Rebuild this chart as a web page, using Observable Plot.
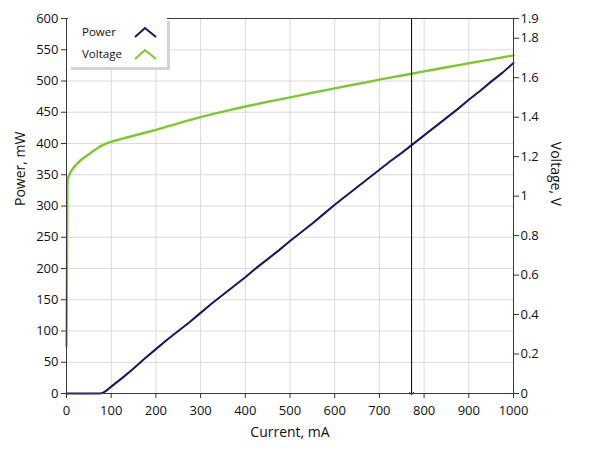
<!DOCTYPE html>
<html>
<head>
<meta charset="utf-8">
<script src="https://cdn.jsdelivr.net/npm/d3@7"></script>
<script src="https://cdn.jsdelivr.net/npm/@observablehq/plot@0.6"></script>
<style>
  html, body { margin: 0; padding: 0; background: #fff; }
  #wrap { position: relative; width: 589px; height: 456px; font-family: "Open Sans", "Noto Sans", sans-serif; }
  #legend { position: absolute; left: 68px; top: 18px; width: 99px; height: 49px; background: #fff;
            box-shadow: 3px 3px 0 #d4d4d4; font-size: 11.5px; color: #111; }
  #legend .row { position: absolute; left: 14px; height: 16px; line-height: 16px; }
  #legend svg { position: absolute; left: 66px; }
</style>
</head>
<body>
<div id="wrap">
  <div id="chart"></div>
  <div id="legend">
    <div class="row" style="top:6px">Power</div>
    <svg style="top:8px" width="24" height="12"><polyline points="1,11 11,2 22,11" fill="none" stroke="#16165e" stroke-width="2"/></svg>
    <div class="row" style="top:28px">Voltage</div>
    <svg style="top:30px" width="24" height="12"><polyline points="1,11 11,2 22,11" fill="none" stroke="#7cc832" stroke-width="2"/></svg>
  </div>
</div>
<script>
// Power vs current
const powerCurrent = [0, 20, 40, 60, 75, 80, 85, 90, 95, 100, 125, 150, 175, 200, 225, 250, 275, 300, 325, 350, 375, 400, 425, 450, 475, 500, 525, 550, 575, 600, 625, 650, 675, 700, 725, 750, 775, 800, 825, 850, 875, 900, 925, 950, 975, 1000];
const powerValues  = [0, 0, 0, 0, 0, 1, 2.5, 5, 8, 11, 25, 40, 56, 71, 86, 100, 114, 129, 144, 158, 172, 186, 201, 215, 229, 244, 258, 272, 287, 302, 316, 330, 344, 358, 372, 385, 399, 413, 427, 441, 455, 470, 484, 499, 513, 529];

// Voltage vs current
const voltCurrent = [0, 1, 2, 3, 5, 10, 20, 30, 40, 50, 60, 70, 80, 90, 100, 125, 150, 175, 200, 250, 300, 350, 400, 450, 500, 550, 600, 650, 700, 750, 800, 850, 900, 950, 1000];
const voltValues  = [0.24, 0.6, 1.05, 1.09, 1.1, 1.125, 1.155, 1.178, 1.196, 1.212, 1.229, 1.244, 1.257, 1.267, 1.275, 1.291, 1.306, 1.321, 1.336, 1.369, 1.40, 1.428, 1.454, 1.478, 1.50, 1.524, 1.546, 1.568, 1.590, 1.611, 1.632, 1.653, 1.673, 1.693, 1.713];

// Cursor
const cursorCurrent = [772];

// Ticks
const currentTicks = [0, 100, 200, 300, 400, 500, 600, 700, 800, 900, 1000];
const powerTicks = [0, 50, 100, 150, 200, 250, 300, 350, 400, 450, 500, 550, 600];
const voltTicks = [0, 0.2, 0.4, 0.6, 0.8, 1, 1.2, 1.4, 1.6, 1.8, 1.9];
const voltTickLabels = ["0", "0.2", "0.4", "0.6", "0.8", "1", "1.2", "1.4", "1.6", "1.8", "1.9"];

const powerMax = 600, voltMax = 1.9;
const k = powerMax / voltMax;

const powerData = powerCurrent.map((c, i) => ({current: c, value: powerValues[i]}));
const voltData = voltCurrent.map((c, i) => ({current: c, value: voltValues[i] * k}));
const voltTickPos = voltTicks.map(v => v * k);

const chart = Plot.plot({
  width: 589,
  height: 456,
  marginLeft: 66,
  marginRight: 76,
  marginTop: 18,
  marginBottom: 63,
  style: {fontFamily: "'Open Sans', 'Noto Sans', sans-serif", fontSize: "13px", color: "#111", background: "#fff"},
  x: {domain: [0, 1000]},
  y: {domain: [0, powerMax]},
  marks: [
    Plot.gridX(currentTicks.slice(1, -1), {stroke: "#dadada", strokeOpacity: 1}),
    Plot.gridY(powerTicks.slice(1, -1), {stroke: "#dadada", strokeOpacity: 1}),
    Plot.axisX({ticks: currentTicks, tickSize: 5, tickPadding: 7, label: null, stroke: "#333", tickFormat: d => String(d)}),
    Plot.axisY({ticks: powerTicks, tickSize: 5, tickPadding: 3, label: null, stroke: "#333", tickFormat: d => String(d)}),
    Plot.axisY({anchor: "right", ticks: voltTickPos, tickSize: 5, tickPadding: 2, label: null, stroke: "#333",
      tickFormat: d => voltTickLabels[voltTickPos.indexOf(d)] ?? ""}),
    Plot.line(voltData, {x: "current", y: "value", stroke: "#7cc832", strokeWidth: 2.4, curve: "monotone-x"}),
    Plot.line(powerData, {x: "current", y: "value", stroke: "#16165e", strokeWidth: 2}),
    Plot.link(cursorCurrent, {x1: d => d, x2: d => d, y1: powerMax, y2: 0, stroke: "#000", strokeWidth: 1, markerEnd: "arrow"}),
    Plot.frame({stroke: "#3a3a3a"}),
    Plot.text(["Power, mW"], {frameAnchor: "left", dx: -46, rotate: -90, fontSize: 14, fill: "#111"}),
    Plot.text(["Voltage, V"], {frameAnchor: "right", dx: 42, rotate: 90, fontSize: 14, fill: "#111"}),
    Plot.text(["Current, mA"], {frameAnchor: "bottom", dy: 43, fontSize: 14, fill: "#111"})
  ]
});
document.getElementById("chart").appendChild(chart);
</script>
</body>
</html>
